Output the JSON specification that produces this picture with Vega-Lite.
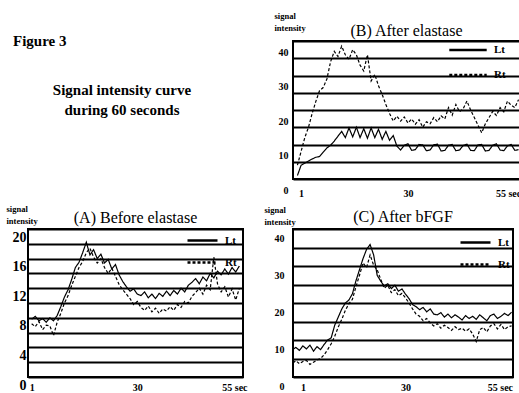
{
 "$schema": "https://vega.github.io/schema/vega-lite/v6.json",
 "autosize": {"type": "pad"},
 "padding": {"left": 5, "top": 10, "right": 0, "bottom": 0},
 "background": "white",
 "bounds": "flush",
 "align": "each",
 "columns": 2,
 "spacing": {"row": 50, "column": 50},
 "datasets": {
  "A": [
   {"t":1,"s":"Lt","v":7.8},{"t":2,"s":"Lt","v":8.2},{"t":3,"s":"Lt","v":7.6},{"t":4,"s":"Lt","v":7.9},{"t":5,"s":"Lt","v":7.4},{"t":6,"s":"Lt","v":8.0},{"t":7,"s":"Lt","v":7.6},{"t":8,"s":"Lt","v":8.3},{"t":9,"s":"Lt","v":9.5},{"t":10,"s":"Lt","v":10.8},
   {"t":11,"s":"Lt","v":11.8},{"t":12,"s":"Lt","v":13.2},{"t":13,"s":"Lt","v":14.8},{"t":14,"s":"Lt","v":15.5},{"t":15,"s":"Lt","v":16.8},{"t":16,"s":"Lt","v":18.2},{"t":17,"s":"Lt","v":16.5},{"t":18,"s":"Lt","v":17.2},{"t":19,"s":"Lt","v":16.0},{"t":20,"s":"Lt","v":16.6},
   {"t":21,"s":"Lt","v":15.4},{"t":22,"s":"Lt","v":15.9},{"t":23,"s":"Lt","v":14.6},{"t":24,"s":"Lt","v":15.2},{"t":25,"s":"Lt","v":13.8},{"t":26,"s":"Lt","v":12.9},{"t":27,"s":"Lt","v":12.2},{"t":28,"s":"Lt","v":11.6},{"t":29,"s":"Lt","v":11.9},{"t":30,"s":"Lt","v":11.2},
   {"t":31,"s":"Lt","v":11.0},{"t":32,"s":"Lt","v":11.5},{"t":33,"s":"Lt","v":10.7},{"t":34,"s":"Lt","v":11.2},{"t":35,"s":"Lt","v":10.6},{"t":36,"s":"Lt","v":11.3},{"t":37,"s":"Lt","v":10.9},{"t":38,"s":"Lt","v":11.6},{"t":39,"s":"Lt","v":11.0},{"t":40,"s":"Lt","v":11.7},
   {"t":41,"s":"Lt","v":11.2},{"t":42,"s":"Lt","v":12.0},{"t":43,"s":"Lt","v":11.5},{"t":44,"s":"Lt","v":12.4},{"t":45,"s":"Lt","v":12.8},{"t":46,"s":"Lt","v":13.3},{"t":47,"s":"Lt","v":12.6},{"t":48,"s":"Lt","v":13.5},{"t":49,"s":"Lt","v":13.0},{"t":50,"s":"Lt","v":14.0},
   {"t":51,"s":"Lt","v":13.4},{"t":52,"s":"Lt","v":14.3},{"t":53,"s":"Lt","v":13.8},{"t":54,"s":"Lt","v":14.6},{"t":55,"s":"Lt","v":13.9},{"t":56,"s":"Lt","v":14.8},{"t":57,"s":"Lt","v":14.2},{"t":58,"s":"Lt","v":15.0},
   {"t":1,"s":"Rt","v":7.2},{"t":2,"s":"Rt","v":6.8},{"t":3,"s":"Rt","v":7.5},{"t":4,"s":"Rt","v":6.4},{"t":5,"s":"Rt","v":7.0},{"t":6,"s":"Rt","v":6.9},{"t":7,"s":"Rt","v":5.6},{"t":8,"s":"Rt","v":7.4},{"t":9,"s":"Rt","v":8.6},{"t":10,"s":"Rt","v":10.0},
   {"t":11,"s":"Rt","v":11.0},{"t":12,"s":"Rt","v":12.4},{"t":13,"s":"Rt","v":13.6},{"t":14,"s":"Rt","v":14.8},{"t":15,"s":"Rt","v":15.6},{"t":16,"s":"Rt","v":16.8},{"t":17,"s":"Rt","v":17.4},{"t":18,"s":"Rt","v":16.2},{"t":19,"s":"Rt","v":15.4},{"t":20,"s":"Rt","v":16.0},
   {"t":21,"s":"Rt","v":14.8},{"t":22,"s":"Rt","v":14.0},{"t":23,"s":"Rt","v":14.7},{"t":24,"s":"Rt","v":13.6},{"t":25,"s":"Rt","v":12.5},{"t":26,"s":"Rt","v":11.8},{"t":27,"s":"Rt","v":11.2},{"t":28,"s":"Rt","v":10.6},{"t":29,"s":"Rt","v":9.8},{"t":30,"s":"Rt","v":10.2},
   {"t":31,"s":"Rt","v":9.4},{"t":32,"s":"Rt","v":9.0},{"t":33,"s":"Rt","v":9.6},{"t":34,"s":"Rt","v":8.8},{"t":35,"s":"Rt","v":9.3},{"t":36,"s":"Rt","v":8.6},{"t":37,"s":"Rt","v":9.2},{"t":38,"s":"Rt","v":8.9},{"t":39,"s":"Rt","v":9.5},{"t":40,"s":"Rt","v":9.0},
   {"t":41,"s":"Rt","v":9.8},{"t":42,"s":"Rt","v":9.4},{"t":43,"s":"Rt","v":10.2},{"t":44,"s":"Rt","v":10.0},{"t":45,"s":"Rt","v":10.9},{"t":46,"s":"Rt","v":11.4},{"t":47,"s":"Rt","v":12.0},{"t":48,"s":"Rt","v":11.2},{"t":49,"s":"Rt","v":12.4},{"t":50,"s":"Rt","v":11.8},
   {"t":51,"s":"Rt","v":16.2},{"t":52,"s":"Rt","v":12.6},{"t":53,"s":"Rt","v":11.5},{"t":54,"s":"Rt","v":12.2},{"t":55,"s":"Rt","v":10.8},{"t":56,"s":"Rt","v":11.9},{"t":57,"s":"Rt","v":10.4},{"t":58,"s":"Rt","v":12.0}
  ],
  "B": [
   {"t":0,"s":"Lt","v":1.0},{"t":1,"s":"Lt","v":4.0},{"t":2,"s":"Lt","v":4.6},{"t":3,"s":"Lt","v":5.2},{"t":4,"s":"Lt","v":5.8},{"t":5,"s":"Lt","v":6.3},{"t":6,"s":"Lt","v":6.5},{"t":7,"s":"Lt","v":7.8},{"t":8,"s":"Lt","v":9.0},{"t":9,"s":"Lt","v":9.8},{"t":10,"s":"Lt","v":11.0},
   {"t":11,"s":"Lt","v":12.4},{"t":12,"s":"Lt","v":13.8},{"t":13,"s":"Lt","v":12.0},{"t":14,"s":"Lt","v":14.8},{"t":15,"s":"Lt","v":12.2},{"t":16,"s":"Lt","v":15.0},{"t":17,"s":"Lt","v":12.0},{"t":18,"s":"Lt","v":14.6},{"t":19,"s":"Lt","v":11.8},{"t":20,"s":"Lt","v":14.8},
   {"t":21,"s":"Lt","v":12.0},{"t":22,"s":"Lt","v":14.4},{"t":23,"s":"Lt","v":11.5},{"t":24,"s":"Lt","v":13.8},{"t":25,"s":"Lt","v":11.2},{"t":26,"s":"Lt","v":12.6},{"t":27,"s":"Lt","v":9.5},{"t":28,"s":"Lt","v":8.4},{"t":29,"s":"Lt","v":9.8},{"t":30,"s":"Lt","v":10.2},
   {"t":31,"s":"Lt","v":8.3},{"t":32,"s":"Lt","v":8.5},{"t":33,"s":"Lt","v":10.0},{"t":34,"s":"Lt","v":9.9},{"t":35,"s":"Lt","v":8.2},{"t":36,"s":"Lt","v":8.4},{"t":37,"s":"Lt","v":9.9},{"t":38,"s":"Lt","v":10.1},{"t":39,"s":"Lt","v":8.1},{"t":40,"s":"Lt","v":8.3},
   {"t":41,"s":"Lt","v":9.8},{"t":42,"s":"Lt","v":10.0},{"t":43,"s":"Lt","v":8.2},{"t":44,"s":"Lt","v":8.4},{"t":45,"s":"Lt","v":9.7},{"t":46,"s":"Lt","v":10.1},{"t":47,"s":"Lt","v":8.3},{"t":48,"s":"Lt","v":8.2},{"t":49,"s":"Lt","v":9.9},{"t":50,"s":"Lt","v":10.0},
   {"t":51,"s":"Lt","v":8.1},{"t":52,"s":"Lt","v":8.3},{"t":53,"s":"Lt","v":9.8},{"t":54,"s":"Lt","v":10.2},{"t":55,"s":"Lt","v":8.4},{"t":56,"s":"Lt","v":8.2},{"t":57,"s":"Lt","v":9.6},{"t":58,"s":"Lt","v":10.0},{"t":59,"s":"Lt","v":8.3},{"t":60,"s":"Lt","v":8.5},
   {"t":0,"s":"Rt","v":4.0},{"t":1,"s":"Rt","v":8.0},{"t":2,"s":"Rt","v":12.0},{"t":3,"s":"Rt","v":15.0},{"t":4,"s":"Rt","v":19.0},{"t":5,"s":"Rt","v":22.5},{"t":6,"s":"Rt","v":25.6},{"t":7,"s":"Rt","v":26.5},{"t":8,"s":"Rt","v":29.0},{"t":9,"s":"Rt","v":34.0},{"t":10,"s":"Rt","v":37.0},
   {"t":11,"s":"Rt","v":35.5},{"t":12,"s":"Rt","v":38.5},{"t":13,"s":"Rt","v":36.0},{"t":14,"s":"Rt","v":34.7},{"t":15,"s":"Rt","v":37.5},{"t":16,"s":"Rt","v":36.0},{"t":17,"s":"Rt","v":33.0},{"t":18,"s":"Rt","v":31.3},{"t":19,"s":"Rt","v":36.0},{"t":20,"s":"Rt","v":28.4},
   {"t":21,"s":"Rt","v":30.3},{"t":22,"s":"Rt","v":27.0},{"t":23,"s":"Rt","v":24.5},{"t":24,"s":"Rt","v":21.6},{"t":25,"s":"Rt","v":19.0},{"t":26,"s":"Rt","v":16.8},{"t":27,"s":"Rt","v":18.2},{"t":28,"s":"Rt","v":16.8},{"t":29,"s":"Rt","v":18.0},{"t":30,"s":"Rt","v":16.2},
   {"t":31,"s":"Rt","v":17.4},{"t":32,"s":"Rt","v":15.9},{"t":33,"s":"Rt","v":17.2},{"t":34,"s":"Rt","v":15.0},{"t":35,"s":"Rt","v":16.6},{"t":36,"s":"Rt","v":16.0},{"t":37,"s":"Rt","v":17.8},{"t":38,"s":"Rt","v":16.6},{"t":39,"s":"Rt","v":18.3},{"t":40,"s":"Rt","v":17.4},
   {"t":41,"s":"Rt","v":20.7},{"t":42,"s":"Rt","v":18.5},{"t":43,"s":"Rt","v":21.6},{"t":44,"s":"Rt","v":19.5},{"t":45,"s":"Rt","v":20.4},{"t":46,"s":"Rt","v":22.6},{"t":47,"s":"Rt","v":20.0},{"t":48,"s":"Rt","v":17.8},{"t":49,"s":"Rt","v":15.6},{"t":50,"s":"Rt","v":13.4},
   {"t":51,"s":"Rt","v":16.0},{"t":52,"s":"Rt","v":17.8},{"t":53,"s":"Rt","v":19.6},{"t":54,"s":"Rt","v":18.4},{"t":55,"s":"Rt","v":20.7},{"t":56,"s":"Rt","v":19.5},{"t":57,"s":"Rt","v":22.6},{"t":58,"s":"Rt","v":21.4},{"t":59,"s":"Rt","v":20.7},{"t":60,"s":"Rt","v":23.0}
  ],
  "C": [
   {"t":-1.8,"s":"Lt","v":7.5},{"t":-1,"s":"Lt","v":8.0},{"t":0,"s":"Lt","v":7.2},{"t":1,"s":"Lt","v":8.4},{"t":2,"s":"Lt","v":7.6},{"t":3,"s":"Lt","v":8.6},{"t":4,"s":"Lt","v":7.0},{"t":5,"s":"Lt","v":8.2},{"t":6,"s":"Lt","v":7.4},{"t":7,"s":"Lt","v":8.8},{"t":8,"s":"Lt","v":10.0},
   {"t":9,"s":"Lt","v":10.6},{"t":10,"s":"Lt","v":14.0},{"t":11,"s":"Lt","v":16.2},{"t":12,"s":"Lt","v":18.4},{"t":13,"s":"Lt","v":20.0},{"t":14,"s":"Lt","v":20.8},{"t":15,"s":"Lt","v":22.5},{"t":16,"s":"Lt","v":26.0},{"t":17,"s":"Lt","v":29.0},{"t":18,"s":"Lt","v":32.0},
   {"t":19,"s":"Lt","v":34.5},{"t":20,"s":"Lt","v":35.8},{"t":21,"s":"Lt","v":33.0},{"t":22,"s":"Lt","v":27.5},{"t":23,"s":"Lt","v":25.9},{"t":24,"s":"Lt","v":24.6},{"t":25,"s":"Lt","v":25.2},{"t":26,"s":"Lt","v":23.9},{"t":27,"s":"Lt","v":24.8},{"t":28,"s":"Lt","v":23.2},
   {"t":29,"s":"Lt","v":23.8},{"t":30,"s":"Lt","v":22.4},{"t":31,"s":"Lt","v":21.2},{"t":32,"s":"Lt","v":19.6},{"t":33,"s":"Lt","v":19.0},{"t":34,"s":"Lt","v":18.2},{"t":35,"s":"Lt","v":18.8},{"t":36,"s":"Lt","v":17.6},{"t":37,"s":"Lt","v":18.4},{"t":38,"s":"Lt","v":17.0},
   {"t":39,"s":"Lt","v":16.8},{"t":40,"s":"Lt","v":17.4},{"t":41,"s":"Lt","v":16.2},{"t":42,"s":"Lt","v":17.0},{"t":43,"s":"Lt","v":16.0},{"t":44,"s":"Lt","v":16.8},{"t":45,"s":"Lt","v":16.2},{"t":46,"s":"Lt","v":15.4},{"t":47,"s":"Lt","v":16.6},{"t":48,"s":"Lt","v":15.8},
   {"t":49,"s":"Lt","v":16.4},{"t":50,"s":"Lt","v":15.6},{"t":51,"s":"Lt","v":16.8},{"t":52,"s":"Lt","v":16.0},{"t":53,"s":"Lt","v":15.2},{"t":54,"s":"Lt","v":16.6},{"t":55,"s":"Lt","v":17.0},{"t":56,"s":"Lt","v":15.8},{"t":57,"s":"Lt","v":16.4},{"t":58,"s":"Lt","v":17.2},{"t":59,"s":"Lt","v":16.6},{"t":60,"s":"Lt","v":17.5},
   {"t":-1.8,"s":"Rt","v":3.8},{"t":-1,"s":"Rt","v":4.4},{"t":0,"s":"Rt","v":3.6},{"t":1,"s":"Rt","v":4.2},{"t":2,"s":"Rt","v":4.5},{"t":3,"s":"Rt","v":3.4},{"t":4,"s":"Rt","v":4.0},{"t":5,"s":"Rt","v":4.6},{"t":6,"s":"Rt","v":5.0},{"t":7,"s":"Rt","v":6.0},{"t":8,"s":"Rt","v":7.4},
   {"t":9,"s":"Rt","v":9.0},{"t":10,"s":"Rt","v":11.0},{"t":11,"s":"Rt","v":13.5},{"t":12,"s":"Rt","v":15.6},{"t":13,"s":"Rt","v":18.0},{"t":14,"s":"Rt","v":19.8},{"t":15,"s":"Rt","v":21.0},{"t":16,"s":"Rt","v":24.4},{"t":17,"s":"Rt","v":27.5},{"t":18,"s":"Rt","v":30.8},
   {"t":19,"s":"Rt","v":29.6},{"t":20,"s":"Rt","v":33.0},{"t":21,"s":"Rt","v":30.2},{"t":22,"s":"Rt","v":29.0},{"t":23,"s":"Rt","v":26.4},{"t":24,"s":"Rt","v":24.0},{"t":25,"s":"Rt","v":24.8},{"t":26,"s":"Rt","v":22.8},{"t":27,"s":"Rt","v":23.6},{"t":28,"s":"Rt","v":22.0},
   {"t":29,"s":"Rt","v":22.6},{"t":30,"s":"Rt","v":21.4},{"t":31,"s":"Rt","v":20.0},{"t":32,"s":"Rt","v":18.4},{"t":33,"s":"Rt","v":17.0},{"t":34,"s":"Rt","v":16.4},{"t":35,"s":"Rt","v":15.2},{"t":36,"s":"Rt","v":15.8},{"t":37,"s":"Rt","v":14.6},{"t":38,"s":"Rt","v":13.8},
   {"t":39,"s":"Rt","v":14.4},{"t":40,"s":"Rt","v":13.2},{"t":41,"s":"Rt","v":14.0},{"t":42,"s":"Rt","v":13.4},{"t":43,"s":"Rt","v":12.6},{"t":44,"s":"Rt","v":13.6},{"t":45,"s":"Rt","v":12.8},{"t":46,"s":"Rt","v":13.2},{"t":47,"s":"Rt","v":12.4},{"t":48,"s":"Rt","v":13.0},
   {"t":49,"s":"Rt","v":11.6},{"t":50,"s":"Rt","v":9.6},{"t":51,"s":"Rt","v":12.8},{"t":52,"s":"Rt","v":13.4},{"t":53,"s":"Rt","v":12.2},{"t":54,"s":"Rt","v":13.8},{"t":55,"s":"Rt","v":14.4},{"t":56,"s":"Rt","v":13.0},{"t":57,"s":"Rt","v":14.2},{"t":58,"s":"Rt","v":12.8},{"t":59,"s":"Rt","v":13.6},{"t":60,"s":"Rt","v":13.8}
  ]
 },
 "concat": [
  {
   "width": 188, "height": 98,
   "view": {"stroke": null},
   "title": {"text": "Figure 3", "anchor": "start", "frame": "group", "dx": -15, "offset": -8, "fontSize": 15, "fontWeight": "bold"},
   "data": {"values": [{"line": ["Signal intensity curve", "during 60 seconds"]}]},
   "mark": {"type": "text", "fontSize": 15, "fontWeight": "bold", "font": "Liberation Serif", "color": "black", "lineHeight": 19.5, "baseline": "middle"},
   "encoding": {
    "text": {"field": "line"}
   }
  },
  {
   "width": 227, "height": 138,
   "title": {"text": "(B) After elastase", "frame": "group", "offset": -28},
   "data": {"name": "B"},
   "mark": {"type": "line", "color": "black", "strokeWidth": 1.2},
   "encoding": {
    "x": {"field": "t", "type": "quantitative", "scale": {"domain": [-1.2, 60.4], "nice": false, "zero": false},
          "axis": {"values": [1, 30, 55], "labelExpr": "datum.value == 55 ? '55 sec' : datum.label", "labelPadding": 9,
                   "labelOffset": {"condition": {"test": "datum.value == 55", "value": 8}, "value": 0}, "title": null}},
    "y": {"field": "v", "type": "quantitative", "scale": {"domain": [0, 40], "nice": false},
          "axis": {"values": [0, 5, 10, 15, 20, 25, 30, 35, 40], "labelExpr": "datum.value % 10 == 0 ? datum.label : ''",
                   "labelPadding": 5, "labelOffset": 11, "title": ["signal", "intensity"], "titleX": -19, "titleY": -30}},
    "strokeDash": {"field": "s", "type": "nominal", "scale": {"domain": ["Lt", "Rt"], "range": [[1, 0], [3, 2]]},
                   "legend": {"title": null, "legendX": 155, "legendY": -11, "symbolSize": 1400}}
   }
  },
  {
   "width": 215, "height": 148,
   "title": {"text": "(A) Before elastase", "frame": "group", "offset": -22},
   "data": {"name": "A"},
   "mark": {"type": "line", "color": "black", "strokeWidth": 1.2},
   "encoding": {
    "x": {"field": "t", "type": "quantitative", "scale": {"domain": [0, 59], "nice": false, "zero": false},
          "axis": {"values": [1, 30, 55], "labelExpr": "datum.value == 55 ? '55 sec' : datum.label", "labelPadding": 5,
                   "labelOffset": {"condition": {"test": "datum.value == 55", "value": 6}, "value": 0}, "title": null}},
    "y": {"field": "v", "type": "quantitative", "scale": {"domain": [0, 20], "nice": false},
          "axis": {"values": [0, 2, 4, 6, 8, 10, 12, 14, 16, 18, 20], "labelExpr": "datum.value % 4 == 0 ? datum.label : ''",
                   "labelFontSize": 14, "labelPadding": 2, "labelOffset": 8, "title": ["signal", "intensity"], "titleX": -22, "titleY": -25}},
    "strokeDash": {"field": "s", "type": "nominal", "scale": {"domain": ["Lt", "Rt"], "range": [[1, 0], [3, 2]]},
                   "legend": {"title": null, "legendX": 158, "legendY": -5, "symbolSize": 900}}
   }
  },
  {
   "width": 220, "height": 148,
   "title": {"text": "(C) After bFGF", "frame": "group", "offset": -20},
   "data": {"name": "C"},
   "mark": {"type": "line", "color": "black", "strokeWidth": 1.2},
   "encoding": {
    "x": {"field": "t", "type": "quantitative", "scale": {"domain": [-1.8, 60.4], "nice": false, "zero": false},
          "axis": {"values": [1, 30, 55], "labelExpr": "datum.value == 55 ? '55 sec' : datum.label", "labelPadding": 5,
                   "labelOffset": {"condition": {"test": "datum.value == 55", "value": 6}, "value": 0}, "title": null}},
    "y": {"field": "v", "type": "quantitative", "scale": {"domain": [0, 40], "nice": false},
          "axis": {"values": [0, 5, 10, 15, 20, 25, 30, 35, 40], "labelExpr": "datum.value % 10 == 0 ? datum.label : ''",
                   "labelPadding": 9, "labelOffset": 9, "title": ["signal", "intensity"], "titleX": -29, "titleY": -24}},
    "strokeDash": {"field": "s", "type": "nominal", "scale": {"domain": ["Lt", "Rt"], "range": [[1, 0], [3, 2]]},
                   "legend": {"title": null, "legendX": 166, "legendY": -3, "symbolSize": 900}}
   }
  }
 ],
 "resolve": {"scale": {"strokeDash": "independent"}, "legend": {"strokeDash": "independent"}},
 "config": {
  "view": {"stroke": "black", "strokeWidth": 2},
  "font": "Liberation Serif",
  "title": {"font": "Liberation Serif", "fontSize": 16, "fontWeight": "normal", "color": "black"},
  "axis": {"grid": false, "ticks": false, "domain": false, "labelFont": "Liberation Serif", "labelFontWeight": "bold",
           "labelColor": "black", "labelFontSize": 10, "labelFlush": false, "labelOverlap": false,
           "titleFont": "Liberation Serif", "titleFontWeight": "bold", "titleFontSize": 8.5, "titleColor": "black"},
  "axisY": {"grid": true, "gridColor": "black", "gridWidth": 2, "gridOpacity": 1, "titleAngle": 0, "titleAlign": "left",
            "titleBaseline": "top", "titleLineHeight": 12},
  "legend": {"orient": "none", "symbolType": "stroke", "symbolStrokeWidth": 2.5, "symbolStrokeColor": "black",
             "labelFont": "Liberation Serif", "labelFontWeight": "bold", "labelFontSize": 11, "labelColor": "black",
             "rowPadding": -6, "labelOffset": 6, "padding": 0}
 }
}
